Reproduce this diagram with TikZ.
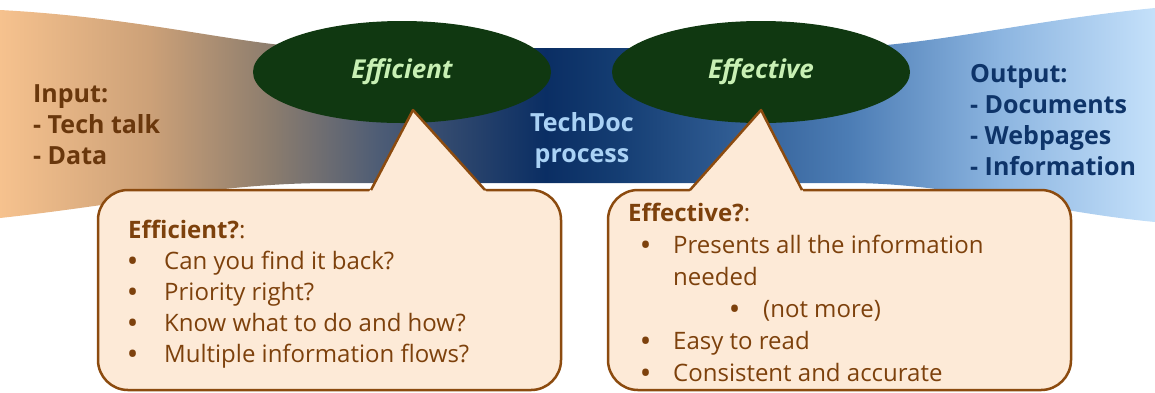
\documentclass[tikz,border=0pt]{standalone}
\usepackage{fontspec}
\setmainfont{Open Sans}
\usepackage{xcolor}
\usepackage{tikz}
\usetikzlibrary{shapes.geometric}

\definecolor{inbrown}{RGB}{105,55,12}
\definecolor{outblue}{RGB}{14,52,105}
\definecolor{procblue}{RGB}{170,210,245}
\definecolor{ovalgreen}{RGB}{16,56,17}
\definecolor{ovaltext}{RGB}{200,240,180}
\definecolor{boxfill}{RGB}{253,234,215}
\definecolor{boxline}{RGB}{140,75,15}
\definecolor{boxtext}{RGB}{125,65,12}

\pgfdeclarehorizontalshading{bandshade}{100bp}{
  rgb(0bp)=(0.965,0.76,0.557);
  rgb(25bp)=(0.965,0.76,0.557);
  rgb(31.5bp)=(0.80,0.63,0.47);
  rgb(36.7bp)=(0.55,0.49,0.43);
  rgb(41.5bp)=(0.30,0.36,0.46);
  rgb(48.6bp)=(0.04,0.18,0.39);
  rgb(51.8bp)=(0.08,0.24,0.45);
  rgb(61.8bp)=(0.30,0.49,0.71);
  rgb(68.3bp)=(0.55,0.71,0.88);
  rgb(75bp)=(0.77,0.88,0.98);
  rgb(100bp)=(0.77,0.88,0.98)}

\newcommand{\itm}[2]{\hspace*{#1}\makebox[#2][l]{\textbf{\textbullet}}}

\begin{document}
\begin{tikzpicture}[x=1pt,y=-1pt]

\tikzstyle{oval} = [ellipse, minimum width=298pt, minimum height=102pt, fill=ovalgreen, text=ovaltext, font=\fontsize{26}{30}\selectfont\bfseries\itshape]
\tikzstyle{sidetext} = [anchor=north west, inner sep=0pt, align=left, font=\fontsize{25}{31}\selectfont\bfseries]
\tikzstyle{callout} = [rectangle, rounded corners=30pt, minimum width=463pt, minimum height=200pt, fill=boxfill, draw=boxline, line width=2.5pt]
\tikzstyle{pointer} = [draw=boxline, line width=2.5pt, line join=round]
\tikzstyle{boxtext} = [anchor=north west, inner sep=0pt, align=left, text=boxtext]

\useasboundingbox (0,0) rectangle (1155,392);

% Band
\shade[shading=bandshade] (0,10) .. controls (150,18) and (250,48) .. (330,48) -- (830,48)
  .. controls (920,48) and (1030,20) .. (1155,8) -- (1155,222)
  .. controls (1050,212) and (950,183) .. (850,183) -- (330,183)
  .. controls (220,183) and (120,205) .. (0,218) -- cycle;

% Texts on the band
\node (input) [sidetext, text=inbrown] at (33,84) {Input:\\- Tech talk\\- Data};
\node (process) [anchor=north, inner sep=0pt, align=center, text=procblue, font=\fontsize{25}{31}\selectfont\bfseries] at (582,112) {TechDoc\\process};
\node (output) [sidetext, text=outblue] at (970,64) {Output:\\- Documents\\- Webpages\\- Information};

% Ovals
\node (efficient) [oval] at (402,72) {Efficient};
\node (effective) [oval] at (761,72) {Effective};

% Callouts
\node (effbox) [callout] at (329.5,290) {};
\fill[boxfill] (368.5,193) -- (413,110) -- (487.5,193) -- cycle;
\draw[pointer] (371,190) -- (413,110) -- (485,190);

\node (efvbox) [callout] at (839.5,290) {};
\fill[boxfill] (688.5,193) -- (761,110) -- (804,193) -- cycle;
\draw[pointer] (690,190) -- (761,110) -- (802,190);

% Callout texts
\node (efftext) [boxtext, font=\fontsize{24}{31}\selectfont] at (128,220) {\textbf{Efficient?}:\\
  \itm{0pt}{36pt}Can you find it back?\\
  \itm{0pt}{36pt}Priority right?\\
  \itm{0pt}{36pt}Know what to do and how?\\
  \itm{0pt}{36pt}Multiple information flows?};
\node (efvtext) [boxtext, font=\fontsize{24}{32}\selectfont] at (628,203) {\textbf{Effective?}:\\
  \itm{13pt}{32pt}Presents all the information\\
  \hspace*{45pt}needed\\
  \itm{102pt}{33pt}(not more)\\
  \itm{13pt}{32pt}Easy to read\\
  \itm{13pt}{32pt}Consistent and accurate};

\end{tikzpicture}
\end{document}
